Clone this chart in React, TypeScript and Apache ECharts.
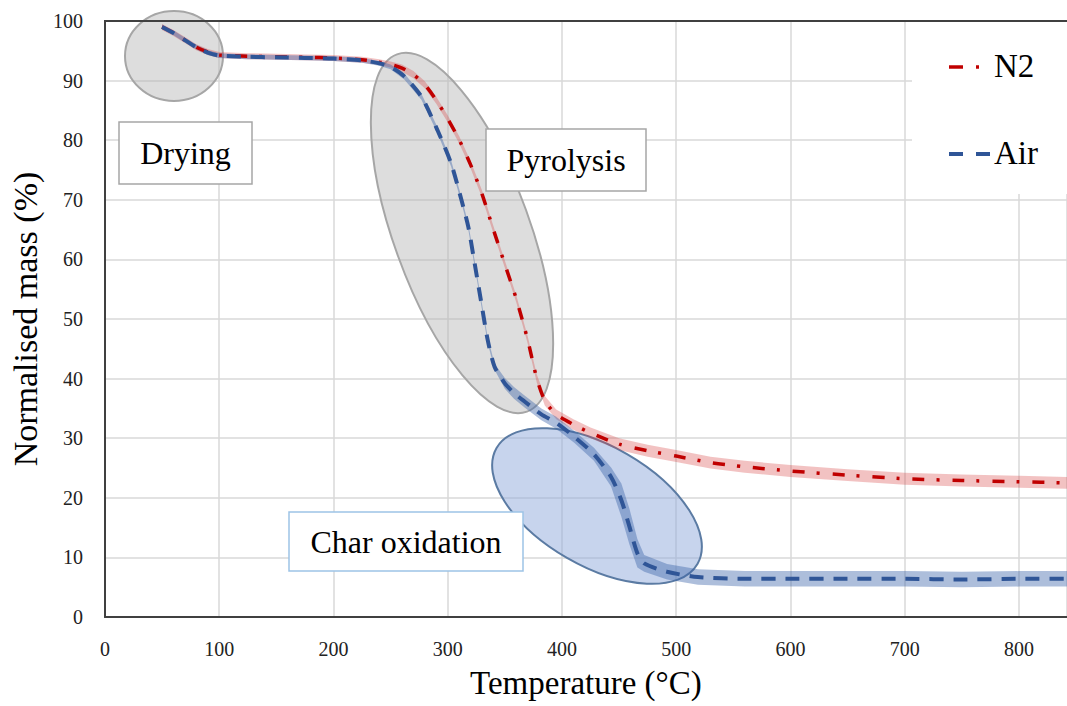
import React, { useEffect, useRef } from "react";
import * as echarts from "echarts";

const n2Temp = [50, 60, 70, 80, 90, 100, 125, 150, 175, 200, 225, 240, 250, 260, 270, 280, 290, 300, 310, 320, 330, 340, 350, 360, 370, 378, 385, 395, 410, 425, 450, 475, 500, 530, 560, 600, 650, 700, 750, 800, 842];
const n2Mass = [99.0, 98.0, 96.8, 95.6, 94.8, 94.3, 94.1, 94.0, 93.9, 93.8, 93.5, 93.1, 92.7, 92.1, 91.0, 89.3, 86.7, 83.6, 80.1, 75.9, 71.0, 65.0, 59.2, 53.4, 46.5, 40.0, 36.3, 34.0, 32.3, 30.9, 29.0, 27.9, 27.0, 25.9, 25.2, 24.5, 23.8, 23.2, 22.9, 22.7, 22.5];
const n2Err = [0.5, 0.5, 0.5, 0.5, 0.5, 0.5, 0.5, 0.5, 0.5, 0.5, 0.5, 0.5, 0.5, 0.6, 0.6, 0.6, 0.6, 0.6, 0.6, 0.6, 0.6, 0.6, 0.6, 0.6, 0.6, 0.7, 0.8, 0.8, 0.9, 0.9, 1.0, 1.0, 1.0, 1.0, 1.0, 1.0, 1.0, 1.0, 1.0, 1.0, 1.0];

const airTemp = [50, 60, 70, 80, 90, 100, 125, 150, 175, 200, 225, 240, 250, 262, 277, 291, 303, 312, 318, 323, 329, 335, 341, 350, 358, 367, 382, 395, 411, 428, 443, 452, 459, 466, 472, 492, 519, 560, 600, 650, 700, 750, 800, 842];
const airMass = [99.0, 98.0, 96.8, 95.6, 94.7, 94.2, 94.0, 93.9, 93.8, 93.7, 93.4, 92.9, 92.3, 90.7, 87.3, 81.7, 76.1, 70.0, 65.5, 60.0, 53.2, 46.5, 42.0, 39.2, 37.6, 36.2, 34.0, 32.6, 30.2, 27.3, 23.5, 19.6, 15.2, 10.7, 9.0, 7.6, 6.7, 6.4, 6.4, 6.4, 6.4, 6.3, 6.4, 6.4];
const airErr = [0.4, 0.4, 0.4, 0.4, 0.4, 0.4, 0.4, 0.4, 0.4, 0.4, 0.4, 0.4, 0.4, 0.5, 0.5, 0.5, 0.5, 0.5, 0.5, 0.5, 0.5, 0.5, 0.5, 0.9, 1.0, 1.0, 1.0, 1.0, 1.0, 1.1, 1.6, 2.8, 3.0, 2.4, 1.4, 1.3, 1.3, 1.3, 1.3, 1.3, 1.3, 1.3, 1.3, 1.3];

const seriesNames = ["N2", "Air"];
const phaseLabels = ["Drying", "Pyrolysis", "Char oxidation"];
const xTitle = "Temperature (°C)";
const yTitle = "Normalised mass (%)";

const FONT = "Liberation Serif";
const RED = "#c00000";
const BLUE = "#2f5597";

function band(temps: number[], mass: number[], err: number[], color: string, z: number) {
  return {
    type: "custom",
    coordinateSystem: "cartesian2d",
    silent: true,
    z,
    clip: true,
    data: [[temps[0], mass[0]]],
    renderItem: (_params: any, api: any) => {
      const upper = temps.map((t, i) => api.coord([t, mass[i] + err[i]]));
      const lower = temps.map((t, i) => api.coord([t, mass[i] - err[i]])).reverse();
      return {
        type: "polygon",
        shape: { points: upper.concat(lower) },
        style: { fill: color, stroke: null },
      };
    },
  };
}

function textBox(x: number, y: number, w: number, h: number, label: string, stroke: string) {
  return [
    { type: "rect", z: 20, shape: { x, y, width: w, height: h }, style: { fill: "#fff", stroke, lineWidth: 1.5 } },
    {
      type: "text", z: 21, x: x + w / 2, y: y + h / 2,
      style: { text: label, fontFamily: FONT, fontSize: 32, fill: "#000", align: "center", verticalAlign: "middle" },
    },
  ];
}

export default function App() {
  const ref = useRef<HTMLDivElement>(null);
  useEffect(() => {
    if (!ref.current) return;
    const chart = echarts.init(ref.current, null, { renderer: "svg" });
    const option: any = {
      animation: false,
      backgroundColor: "#fff",
      textStyle: { fontFamily: FONT },
      grid: { left: 104, right: 0, top: 21, bottom: 89, containLabel: false },
      xAxis: {
        type: "value", min: 0, max: 842, interval: 100,
        name: xTitle, nameLocation: "middle", nameGap: 49,
        nameTextStyle: { fontFamily: FONT, fontSize: 33, color: "#000" },
        axisLine: { show: true, onZero: false, lineStyle: { color: "#404040", width: 2 } },
        axisTick: { show: false },
        axisLabel: {
          fontFamily: FONT, fontSize: 20, color: "#222", margin: 22, showMaxLabel: false,
          formatter: (v: number) => (v % 100 === 0 ? String(v) : ""),
        },
        splitLine: { show: true, lineStyle: { color: "#d9d9d9", width: 1.5 } },
      },
      yAxis: {
        type: "value", min: 0, max: 100, interval: 10,
        name: yTitle, nameLocation: "middle", nameGap: 56, nameRotate: 90,
        nameTextStyle: { fontFamily: FONT, fontSize: 34, color: "#000" },
        axisLine: { show: true, onZero: false, lineStyle: { color: "#404040", width: 2 } },
        axisTick: { show: false },
        axisLabel: { fontFamily: FONT, fontSize: 20, color: "#222", margin: 22 },
        splitLine: { show: true, lineStyle: { color: "#d9d9d9", width: 1.5 } },
      },
      series: [
        band(n2Temp, n2Mass, n2Err, "rgba(215,70,70,0.33)", 2),
        band(airTemp, airMass, airErr, "rgba(60,100,170,0.42)", 2),
        {
          name: seriesNames[0], type: "line", z: 3, symbol: "none", smooth: 0.25,
          data: n2Temp.map((t, i) => [t, n2Mass[i]]),
          lineStyle: { color: RED, width: 3.5, type: [12, 12, 3, 13] },
        },
        {
          name: seriesNames[1], type: "line", z: 4, symbol: "none", smooth: 0.25,
          data: airTemp.map((t, i) => [t, airMass[i]]),
          lineStyle: { color: BLUE, width: 4, type: [14, 10] },
        },
      ],
      graphic: {
        elements: [
          { type: "line", z: 5, shape: { x1: 104, y1: 21, x2: 1067, y2: 21 }, style: { stroke: "#404040", lineWidth: 2 } },
          { type: "ellipse", z: 1, x: 174, y: 56, shape: { cx: 0, cy: 0, rx: 49, ry: 45 }, style: { fill: "rgba(180,180,180,0.45)", stroke: "#a6a6a6", lineWidth: 2 } },
          { type: "ellipse", z: 1, x: 462, y: 233, rotation: (20 * Math.PI) / 180, shape: { cx: 0, cy: 0, rx: 68, ry: 190 }, style: { fill: "rgba(180,180,180,0.45)", stroke: "#a6a6a6", lineWidth: 2 } },
          { type: "ellipse", z: 1, x: 597, y: 506, rotation: (-30 * Math.PI) / 180, shape: { cx: 0, cy: 0, rx: 116, ry: 60 }, style: { fill: "rgba(143,170,220,0.5)", stroke: "#5b7ba3", lineWidth: 2 } },
          ...textBox(119, 122, 133, 62, phaseLabels[0], "#a6a6a6"),
          ...textBox(486, 129, 160, 62, phaseLabels[1], "#a6a6a6"),
          ...textBox(289, 512, 234, 59, phaseLabels[2], "#9dc3e6"),
          { type: "rect", z: 6, shape: { x: 912, y: 22, width: 155, height: 172 }, style: { fill: "#fff" } },
          { type: "line", z: 7, shape: { x1: 949, y1: 67, x2: 963, y2: 67 }, style: { stroke: RED, lineWidth: 3.5 } },
          { type: "line", z: 7, shape: { x1: 976, y1: 67, x2: 979, y2: 67 }, style: { stroke: RED, lineWidth: 3.5 } },
          { type: "text", z: 7, x: 994, y: 66, style: { text: seriesNames[0], fontFamily: FONT, fontSize: 33, fill: "#000", align: "left", verticalAlign: "middle" } },
          { type: "line", z: 7, shape: { x1: 949, y1: 154, x2: 963, y2: 154 }, style: { stroke: BLUE, lineWidth: 4 } },
          { type: "line", z: 7, shape: { x1: 976, y1: 154, x2: 990, y2: 154 }, style: { stroke: BLUE, lineWidth: 4 } },
          { type: "text", z: 7, x: 994, y: 153, style: { text: seriesNames[1], fontFamily: FONT, fontSize: 33, fill: "#000", align: "left", verticalAlign: "middle" } },
        ],
      },
    };
    chart.setOption(option);
    return () => chart.dispose();
  }, []);
  return <div ref={ref} style={{ position: "fixed", left: 0, top: 0, width: 1067, height: 706 }} />;
}
